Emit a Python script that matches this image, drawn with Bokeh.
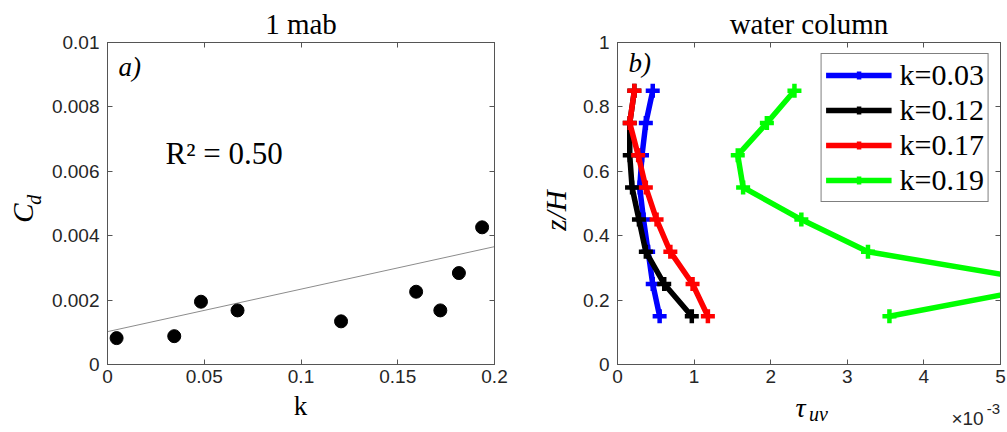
from bokeh.plotting import figure
from bokeh.models import Label, LinearAxis, Legend, LegendItem, FixedTicker, Range1d
from bokeh.layouts import row, column
from bokeh.embed import file_html
from bokeh.resources import INLINE

# ---------------- data ----------------
# panel a) : drag coefficient vs k at 1 mab
k_vals = [0.0047, 0.0345, 0.0483, 0.0672, 0.1207, 0.1595, 0.1720, 0.1816, 0.1936]
cd_vals = [0.00082, 0.00088, 0.00195, 0.00168, 0.00134, 0.00226, 0.00168, 0.00284, 0.00426]
fit_k = [0.0, 0.2]
fit_cd = [0.00102, 0.00366]
r2_text = "R² = 0.50"

# panel b) : tau_uv profiles (units of 1e-3) vs z/H
z_levels = [0.85, 0.75, 0.65, 0.55, 0.45, 0.35, 0.25, 0.15]
tau_k003 = [0.46, 0.37, 0.32, 0.29, 0.34, 0.40, 0.46, 0.55]
tau_k012 = [0.22, 0.16, 0.16, 0.19, 0.28, 0.37, 0.61, 0.97]
tau_k017 = [0.22, 0.16, 0.27, 0.37, 0.51, 0.69, 0.98, 1.18]
tau_k019 = [2.31, 1.95, 1.57, 1.64, 2.40, 3.27, 5.76, 3.55]
series_names = ["k=0.03", "k=0.12", "k=0.17", "k=0.19"]
series_vals = [tau_k003, tau_k012, tau_k017, tau_k019]
series_colors = ["#0000ff", "#000000", "#ff0000", "#00ff00"]

# ticks
a_xticks = [0, 0.05, 0.1, 0.15, 0.2]
a_xlabels = ["0", "0.05", "0.1", "0.15", "0.2"]
a_yticks = [0, 0.002, 0.004, 0.006, 0.008, 0.01]
a_ylabels = ["0", "0.002", "0.004", "0.006", "0.008", "0.01"]
b_xticks = [0, 1, 2, 3, 4, 5]
b_xlabels = ["0", "1", "2", "3", "4", "5"]
b_yticks = [0, 0.2, 0.4, 0.6, 0.8, 1.0]
b_ylabels = ["0", "0.2", "0.4", "0.6", "0.8", "1"]

SERIF = "Liberation Serif"
SANS = "Liberation Sans"
AX_COLOR = "#555555"
TXT_COLOR = "#262626"


def style_axes(p, xt, xl, yt, yl):
    bx = p.below[0]
    ly = p.left[0]
    bx.ticker = FixedTicker(ticks=xt)
    ly.ticker = FixedTicker(ticks=yt)
    bx.major_label_overrides = {t: l for t, l in zip(xt, xl)}
    ly.major_label_overrides = {t: l for t, l in zip(yt, yl)}
    bx.major_label_text_font_size = "19px"
    bx.major_label_standoff = 5
    ly.major_label_text_font_size = "19px"
    ly.major_label_standoff = 8
    top = LinearAxis(ticker=FixedTicker(ticks=xt), major_label_text_color=None,
                     major_label_text_font_size="1px", major_label_standoff=5)
    right = LinearAxis(ticker=FixedTicker(ticks=yt), major_label_text_color=None,
                       major_label_text_font_size="1px", major_label_standoff=0)
    p.add_layout(top, "above")
    p.add_layout(right, "right")
    for ax in [bx, ly, top, right]:
        ax.axis_line_color = AX_COLOR
        ax.axis_line_width = 1
        ax.major_tick_line_color = AX_COLOR
        ax.major_tick_in = 5
        ax.major_tick_out = 0
        ax.minor_tick_line_color = None
        ax.major_label_text_font = SANS
        ax.major_label_text_font_style = "normal"
    bx.major_label_text_color = TXT_COLOR
    ly.major_label_text_color = TXT_COLOR
    p.grid.visible = False
    p.outline_line_color = AX_COLOR
    p.title.text_font = SERIF
    p.title.text_font_size = "29px"
    p.title.text_font_style = "normal"
    p.title.text_color = "#000000"
    p.title.align = "center"
    p.title.vertical_align = "top"
    p.title.standoff = 2


def add_label(p, text, x, y, xo=0, yo=0, size="29px", font=SERIF, style="normal",
              align="center", angle=0.0, color="#000000"):
    p.add_layout(Label(x=x, y=y, x_offset=xo, y_offset=yo, text=text,
                       text_font=font, text_font_size=size, text_font_style=style,
                       text_align=align, text_baseline="middle", angle=angle,
                       text_color=color))


def strip(w, h):
    s = figure(width=w, height=h, output_backend="svg", toolbar_location=None,
               x_range=Range1d(0, w), y_range=Range1d(0, h),
               x_axis_type=None, y_axis_type=None,
               min_border_left=0, min_border_right=0, min_border_top=0, min_border_bottom=0)
    s.outline_line_color = None
    return s


# ---------------- panel a ----------------
pa = figure(width=460, height=391, output_backend="svg", toolbar_location=None, title="1 mab",
            x_range=Range1d(0, 0.2), y_range=Range1d(0, 0.01),
            min_border_left=59, min_border_right=14, min_border_top=42, min_border_bottom=27)
pa.line(fit_k, fit_cd, line_color="#8c8c8c", line_width=1)
pa.scatter(k_vals, cd_vals, size=13, marker="circle", fill_color="#000000", line_color="#000000")
style_axes(pa, a_xticks, a_xlabels, a_yticks, a_ylabels)
add_label(pa, "a)", 0.0, 0.01, xo=11, yo=-24, size="27px", style="italic", align="left")
add_label(pa, r2_text, 0.0, 0.01, xo=58, yo=-111, size="31px", align="left")

ya = strip(48, 391)
add_label(ya, "C", 22, 184, style="italic", angle=1.5708)
add_label(ya, "d", 33, 200, size="20px", style="italic", angle=1.5708)
xa = strip(508, 41)
add_label(xa, "k", 300, 27, size="27px")

panel_a = column(row(ya, pa), xa)

# ---------------- panel b ----------------
pb = figure(width=427, height=391, output_backend="svg", toolbar_location=None, title="water column",
            x_range=Range1d(0, 5), y_range=Range1d(0, 1),
            min_border_left=36, min_border_right=7, min_border_top=42, min_border_bottom=27)
items = []
for name, vals, col in zip(series_names, series_vals, series_colors):
    lr = pb.line(vals, z_levels, line_color=col, line_width=5.5)
    sr = pb.scatter(vals, z_levels, marker="cross", size=14, line_color=col, line_width=4.5)
    items.append(LegendItem(label=name, renderers=[lr, sr]))
style_axes(pb, b_xticks, b_xlabels, b_yticks, b_ylabels)

legend = Legend(items=items, location="top_right", margin=11, padding=4, spacing=1,
                glyph_width=66, glyph_height=20, label_height=31, label_standoff=8,
                label_text_font=SERIF, label_text_font_size="30px", label_text_color="#000000",
                border_line_color="#000000", border_line_width=1, background_fill_color="#ffffff",
                background_fill_alpha=1.0)
pb.add_layout(legend)
add_label(pb, "b)", 0.0, 1.0, xo=11, yo=-20, size="27px", style="italic", align="left")

yb = strip(72, 391)
add_label(yb, "z/H", 47, 187, style="italic", angle=1.5708)
xb = strip(499, 41)
add_label(xb, "τ", 292, 25, size="28px", style="italic")
add_label(xb, "uv", 310, 19, size="20px", style="italic")
add_label(xb, "×10", 459, 14, size="19px", font=SANS, color=TXT_COLOR)
add_label(xb, "-3", 485, 24, size="15px", font=SANS, color=TXT_COLOR)

panel_b = column(row(yb, pb), xb)

layout = row(panel_a, panel_b)
open("out.html", "w").write(file_html(layout, INLINE))
